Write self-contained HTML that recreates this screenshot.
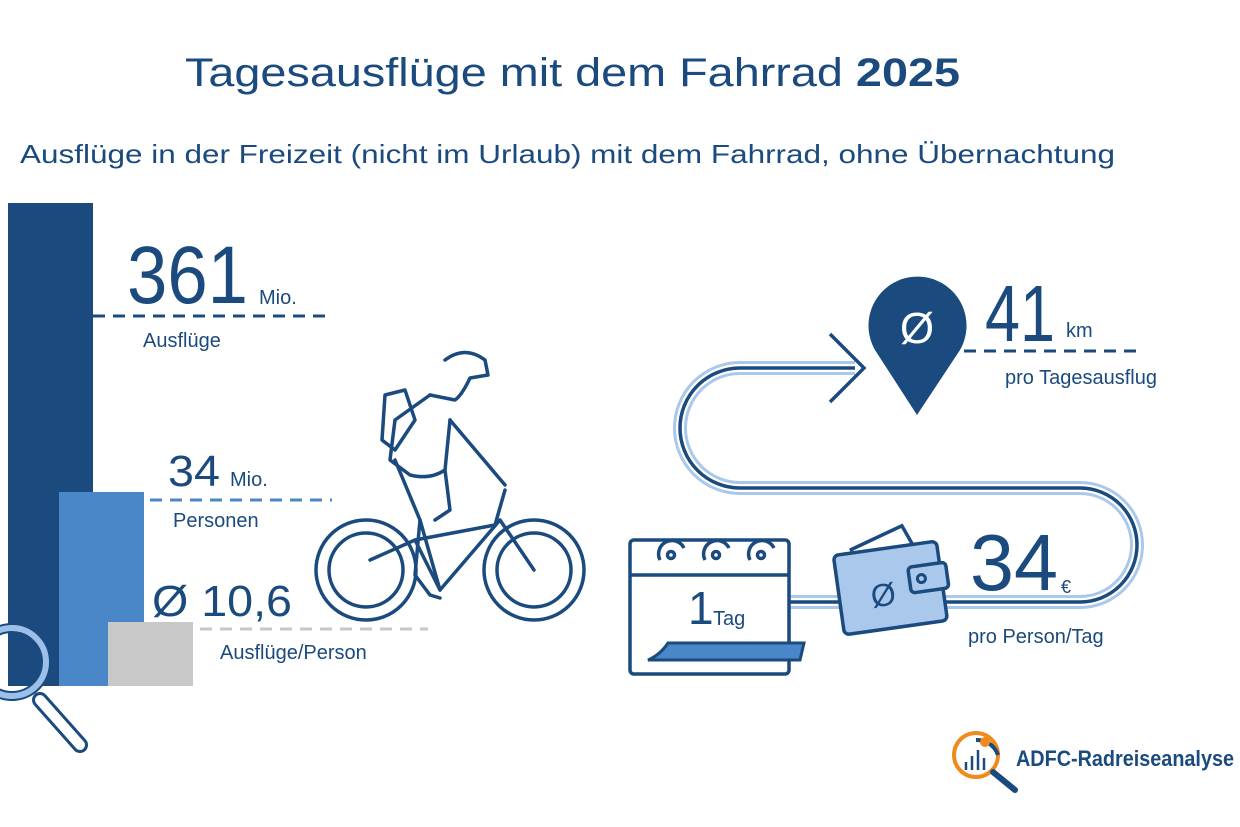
<!DOCTYPE html>
<html><head><meta charset="utf-8"><style>
html,body{margin:0;padding:0;background:#fff;}
svg{display:block;}
text{font-family:"Liberation Sans",sans-serif;fill:#1a4a7e;}
</style></head><body>
<svg width="1240" height="827" viewBox="0 0 1240 827" xmlns="http://www.w3.org/2000/svg">
<rect width="1240" height="827" fill="#fff"/>
<text x="185" y="86" font-size="40" textLength="775" lengthAdjust="spacingAndGlyphs">Tagesausflüge mit dem Fahrrad <tspan font-weight="bold">2025</tspan></text>
<text x="20" y="163" font-size="26" textLength="1095" lengthAdjust="spacingAndGlyphs">Ausflüge in der Freizeit (nicht im Urlaub) mit dem Fahrrad, ohne Übernachtung</text>

<!-- bars -->
<rect x="8" y="203" width="85" height="483" fill="#1a4a7e"/>
<rect x="59" y="492" width="85" height="194" fill="#4a87c8"/>
<rect x="108" y="622" width="85" height="64" fill="#c8c8c8"/>
<!-- magnifier -->
<circle cx="12" cy="662" r="34" fill="none" stroke="#1a4a7e" stroke-width="10"/>
<circle cx="12" cy="662" r="34" fill="none" stroke="#9cc0ea" stroke-width="6"/>
<line x1="40" y1="700" x2="80" y2="745" stroke="#1a4a7e" stroke-width="16" stroke-linecap="round"/>
<line x1="40" y1="700" x2="80" y2="745" stroke="#fff" stroke-width="10" stroke-linecap="round"/>

<text x="127" y="303" font-size="82" textLength="121" lengthAdjust="spacingAndGlyphs">361</text>
<text x="259" y="304" font-size="20">Mio.</text>
<line x1="93" y1="316" x2="325" y2="316" stroke="#1a4a7e" stroke-width="3" stroke-dasharray="12,8"/>
<text x="143" y="347" font-size="20">Ausflüge</text>

<text x="168" y="486" font-size="44" textLength="52" lengthAdjust="spacingAndGlyphs">34</text>
<text x="230" y="486" font-size="20">Mio.</text>
<line x1="150" y1="500" x2="332" y2="500" stroke="#4a87c8" stroke-width="3" stroke-dasharray="12,8"/>
<text x="173" y="527" font-size="20">Personen</text>

<text x="152" y="616" font-size="44" textLength="140" lengthAdjust="spacingAndGlyphs">Ø 10,6</text>
<line x1="200" y1="629" x2="428" y2="629" stroke="#c8c8c8" stroke-width="3" stroke-dasharray="12,8"/>
<text x="220" y="659" font-size="20">Ausflüge/Person</text>

<!-- cyclist -->
<g fill="none" stroke="#1a4a7e" stroke-width="3.5" stroke-linecap="round" stroke-linejoin="round">
<circle cx="366" cy="570" r="50"/><circle cx="366" cy="570" r="37"/>
<circle cx="534" cy="570" r="50"/><circle cx="534" cy="570" r="37"/>
<path d="M370 560 L415 540 L440 590 L500 520 L534 570"/>
<path d="M415 540 L495 525 L505 490"/>
<path d="M440 590 L420 520"/>
<path d="M445 360 Q465 345 485 360 L488 375 L470 378 Q462 395 455 400 L430 395"/>
<path d="M430 395 L395 420 L390 460 L410 475 Q430 480 445 470 L450 420"/>
<path d="M450 420 L505 485"/>
<path d="M395 460 L420 520 L415 575 L430 595 L440 598"/>
<path d="M445 470 L450 510 L435 520"/>
<path d="M385 395 L405 390 L415 420 L395 450 L382 440 Z"/>
</g>

<!-- route -->
<g fill="none" stroke-linecap="butt">
<path d="M855 368 L740 368 A60 60 0 0 0 740 488 L1080 488 A57 57 0 0 1 1080 602 L790 602" stroke="#a9c8ec" stroke-width="14"/>
<path d="M855 368 L740 368 A60 60 0 0 0 740 488 L1080 488 A57 57 0 0 1 1080 602 L790 602" stroke="#fff" stroke-width="8"/>
<path d="M855 368 L740 368 A60 60 0 0 0 740 488 L1080 488 A57 57 0 0 1 1080 602 L790 602" stroke="#1a4a7e" stroke-width="3.5"/>
</g>
<path d="M830 334 L864 368 L830 402" fill="none" stroke="#1a4a7e" stroke-width="3.5"/>
<!-- pin -->
<path d="M917 415 L875 350 A49 49 0 1 1 960 350 Z" fill="#1a4a7e"/>
<text x="917" y="343" font-size="44" text-anchor="middle" style="fill:#fff">Ø</text>
<text x="985" y="341" font-size="80" textLength="70" lengthAdjust="spacingAndGlyphs">41</text>
<text x="1066" y="337" font-size="20">km</text>
<line x1="964" y1="351" x2="1140" y2="351" stroke="#1a4a7e" stroke-width="3" stroke-dasharray="12,8"/>
<text x="1005" y="384" font-size="20">pro Tagesausflug</text>

<!-- calendar -->
<rect x="630" y="540" width="159" height="134" rx="4" fill="#fff" stroke="#1a4a7e" stroke-width="3.5"/>
<line x1="630" y1="575" x2="789" y2="575" stroke="#1a4a7e" stroke-width="3.5"/>
<g fill="none" stroke="#1a4a7e" stroke-width="3.5">
<path d="M660 560 A13 13 0 1 1 684 548"/><circle cx="671" cy="555" r="3.5"/>
<path d="M705 560 A13 13 0 1 1 729 548"/><circle cx="716" cy="555" r="3.5"/>
<path d="M750 560 A13 13 0 1 1 774 548"/><circle cx="761" cy="555" r="3.5"/>
</g>
<path d="M668 643 L804 643 L800 660 L648 660 Q660 655 668 643 Z" fill="#4a87c8" stroke="#1a4a7e" stroke-width="3"/>
<text x="688" y="624" font-size="46">1</text>
<text x="713" y="625" font-size="20">Tag</text>

<!-- wallet -->
<g transform="rotate(-8 890 585)">
<path d="M855 545 L910 528 L918 548" fill="#fff" stroke="#1a4a7e" stroke-width="3.5"/>
<rect x="838" y="548" width="104" height="80" rx="5" fill="#a9c8ec" stroke="#1a4a7e" stroke-width="3.5"/>
<rect x="910" y="570" width="38" height="26" rx="4" fill="#a9c8ec" stroke="#1a4a7e" stroke-width="3.5"/>
<circle cx="922" cy="583" r="4" fill="none" stroke="#1a4a7e" stroke-width="3"/>
<text x="882" y="605" font-size="32" text-anchor="middle">Ø</text>
</g>
<text x="970" y="590" font-size="80" textLength="88" lengthAdjust="spacingAndGlyphs">34</text>
<text x="1061" y="593" font-size="18">€</text>
<text x="968" y="643" font-size="20">pro Person/Tag</text>

<!-- logo -->
<circle cx="976" cy="755" r="22" fill="none" stroke="#f08a1c" stroke-width="4"/>
<path d="M976 740 A22 22 0 0 1 998 755" fill="none" stroke="#1a4a7e" stroke-width="4"/>
<circle cx="985" cy="742" r="5" fill="#f08a1c"/>
<g stroke="#1a4a7e" stroke-width="2.5"><line x1="966" y1="770" x2="966" y2="762"/><line x1="972" y1="770" x2="972" y2="756"/><line x1="978" y1="770" x2="978" y2="750"/><line x1="984" y1="770" x2="984" y2="758"/></g>
<line x1="993" y1="772" x2="1015" y2="790" stroke="#1a4a7e" stroke-width="6" stroke-linecap="round"/>
<text x="1016" y="766" font-size="22" font-weight="bold" textLength="218" lengthAdjust="spacingAndGlyphs">ADFC-Radreiseanalyse</text>
</svg>
</body></html>
